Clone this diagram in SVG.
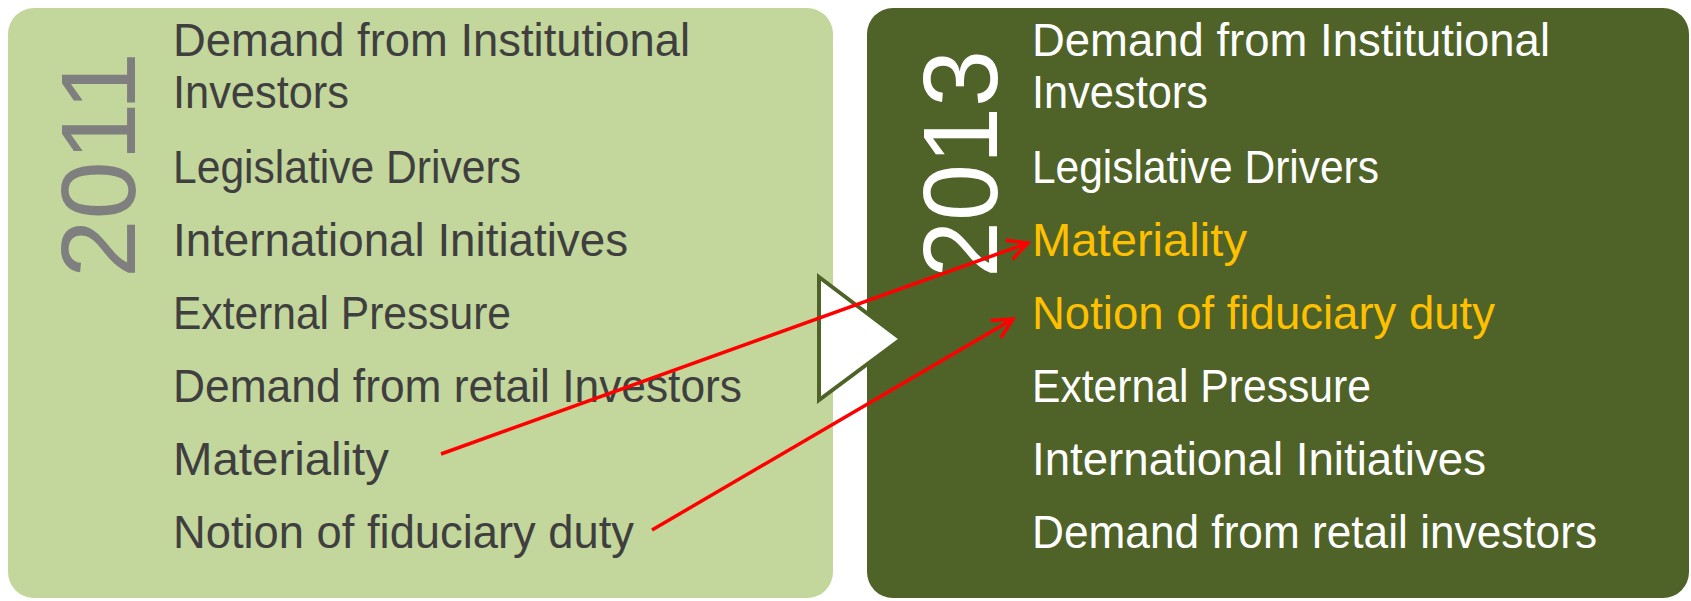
<svg xmlns="http://www.w3.org/2000/svg" width="1691" height="601" viewBox="0 0 1691 601">
<style>
.t{font-family:"Liberation Sans",Arial,sans-serif;font-size:46px}
.dk{fill:#3f3f3f}
.wh{fill:#ffffff}
.hl{fill:#ffc000}
.yr{font-family:"Liberation Sans",Arial,sans-serif;font-size:106px}
.conn{stroke:#ff0000;stroke-width:3.5;fill:none}
</style>
<defs>
<marker id="arr" markerUnits="userSpaceOnUse" markerWidth="26" markerHeight="26" viewBox="0 0 26 26" refX="23" refY="13" orient="auto">
<path d="M3,3 L23,13 L3,23" fill="none" stroke="#ff0000" stroke-width="3.5"/>
</marker>
</defs>
<rect width="1691" height="601" fill="#ffffff"/>
<g id="box2011">
<rect x="8" y="8" width="825" height="590" rx="26" fill="#c3d69b"/>
<text class="yr" fill="#7f7f7f" x="135" y="278" transform="rotate(-90 135 278)" textLength="226" lengthAdjust="spacingAndGlyphs">2011</text>
<text class="t dk" x="173" y="56" textLength="517" lengthAdjust="spacingAndGlyphs">Demand from Institutional</text>
<text class="t dk" x="173" y="108" textLength="176" lengthAdjust="spacingAndGlyphs">Investors</text>
<text class="t dk" x="173" y="183" textLength="348" lengthAdjust="spacingAndGlyphs">Legislative Drivers</text>
<text class="t dk" x="173" y="256" textLength="455" lengthAdjust="spacingAndGlyphs">International Initiatives</text>
<text class="t dk" x="173" y="329" textLength="338" lengthAdjust="spacingAndGlyphs">External Pressure</text>
<text class="t dk" x="173" y="402" textLength="569" lengthAdjust="spacingAndGlyphs">Demand from retail Investors</text>
<text class="t dk" x="173" y="475" textLength="216" lengthAdjust="spacingAndGlyphs">Materiality</text>
<text class="t dk" x="173" y="548" textLength="461" lengthAdjust="spacingAndGlyphs">Notion of fiduciary duty</text>
</g>
<g id="box2013">
<rect x="867" y="8" width="822" height="590" rx="26" fill="#4f6228"/>
<text class="yr" fill="#ffffff" x="997" y="278" transform="rotate(-90 997 278)" textLength="228" lengthAdjust="spacingAndGlyphs">2013</text>
<text class="t wh" x="1032" y="56" textLength="518" lengthAdjust="spacingAndGlyphs">Demand from Institutional</text>
<text class="t wh" x="1032" y="108" textLength="176" lengthAdjust="spacingAndGlyphs">Investors</text>
<text class="t wh" x="1032" y="183" textLength="347" lengthAdjust="spacingAndGlyphs">Legislative Drivers</text>
<text class="t hl" x="1032" y="256" textLength="215" lengthAdjust="spacingAndGlyphs">Materiality</text>
<text class="t hl" x="1032" y="329" textLength="463" lengthAdjust="spacingAndGlyphs">Notion of fiduciary duty</text>
<text class="t wh" x="1032" y="402" textLength="339" lengthAdjust="spacingAndGlyphs">External Pressure</text>
<text class="t wh" x="1032" y="475" textLength="454" lengthAdjust="spacingAndGlyphs">International Initiatives</text>
<text class="t wh" x="1032" y="548" textLength="565" lengthAdjust="spacingAndGlyphs">Demand from retail investors</text>
</g>
<g id="transition">
<polygon points="819,277 901,339 819,400" fill="#ffffff" stroke="#4f6228" stroke-width="4" stroke-linejoin="miter"/>
</g>
<g id="connectors">
<line class="conn" x1="441" y1="454" x2="1028" y2="243" marker-end="url(#arr)"/>
<line class="conn" x1="652" y1="530" x2="1013" y2="319" marker-end="url(#arr)"/>
</g>
</svg>
